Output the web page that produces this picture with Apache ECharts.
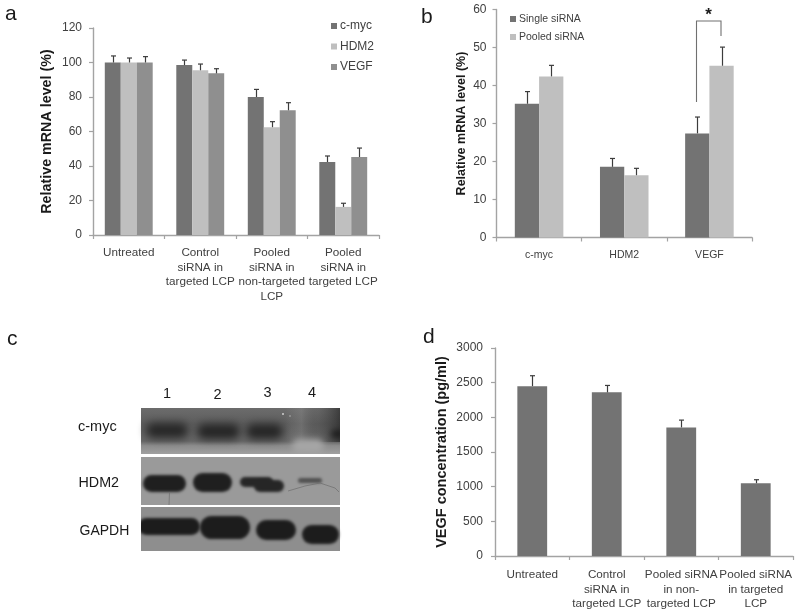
<!DOCTYPE html>
<html>
<head>
<meta charset="utf-8">
<style>html,body{margin:0;padding:0;background:#fff}#c{width:800px;height:616px}</style>
<script src="https://cdn.jsdelivr.net/npm/echarts@6/dist/echarts.min.js"></script>
</head>
<body>
<div id="c"></div>
<script>
// Panel a
const aCategories = ['Untreated', 'Control\nsiRNA in\ntargeted LCP', 'Pooled\nsiRNA in\nnon-targeted\nLCP', 'Pooled\nsiRNA in\ntargeted LCP'];
const aCmyc = [100, 98.5, 80, 42.3];
const aCmycTop = [103.8, 101.4, 84.4, 45.8];
const aHdm2 = [100, 95.5, 62.5, 16.3];
const aHdm2Top = [102.6, 99.1, 65.7, 18.4];
const aVegf = [100, 93.7, 72.3, 45.2];
const aVegfTop = [103.4, 96.4, 76.7, 50.4];
// Panel b
const bCategories = ['c-myc', 'HDM2', 'VEGF'];
const bSingle = [35.2, 18.6, 27.4];
const bSingleTop = [38.4, 20.8, 31.7];
const bPooled = [42.4, 16.4, 45.2];
const bPooledTop = [45.3, 18.2, 50.1];
// Panel d
const dCategories = ['Untreated', 'Control\nsiRNA in\ntargeted LCP', 'Pooled siRNA\nin non-\ntargeted LCP', 'Pooled siRNA\nin targeted\nLCP'];
const dVegf = [2450, 2360, 1855, 1050];
const dVegfTop = [2600, 2460, 1960, 1100];

const FONT = '"Liberation Sans", Arial, sans-serif';
const DARK = '#737373', LIGHT = '#bfbfbf', MID = '#8f8f8f';
const AXIS = '#a3a3a3', TEXT = '#404040';

function xAxis(gridIndex, data, fontSize, margin, lineHeight) {
  return {
    type: 'category', gridIndex, data,
    axisLine: { lineStyle: { color: AXIS, width: 1.4 } },
    axisTick: { show: true, length: 4, lineStyle: { color: AXIS, width: 1.2 } },
    axisLabel: { interval: 0, hideOverlap: false, color: TEXT, fontFamily: FONT, fontSize, margin, lineHeight },
    splitLine: { show: false }
  };
}
function yAxis(gridIndex, max, interval, name, nameSize, nameGap, fontSize, margin) {
  return {
    type: 'value', gridIndex, min: 0, max, interval,
    name, nameLocation: 'middle', nameGap,
    nameTextStyle: { color: '#1a1a1a', fontFamily: FONT, fontWeight: 'bold', fontSize: nameSize },
    axisLine: { show: true, lineStyle: { color: AXIS, width: 1.4 } },
    axisTick: { show: true, length: 4, lineStyle: { color: AXIS, width: 1.2 } },
    axisLabel: { color: TEXT, fontFamily: FONT, fontSize, margin, formatter: v => String(v) },
    splitLine: { show: false }
  };
}
function bars(name, data, color, idx, gap) {
  return { type: 'bar', name, data, xAxisIndex: idx, yAxisIndex: idx, barGap: 0, barCategoryGap: gap,
    itemStyle: { color }, emphasis: { disabled: true }, silent: true, z: 2 };
}
function errs(values, tops, idx, offsetFrac) {
  return {
    type: 'custom', xAxisIndex: idx, yAxisIndex: idx, silent: true, z: 3,
    data: values.map((v, i) => [i, v, tops[i]]),
    encode: { x: 0, y: [1, 2] },
    renderItem(params, api) {
      const band = api.size([1, 0])[0];
      const base = api.coord([api.value(0), api.value(1)]);
      const top = api.coord([api.value(0), api.value(2)]);
      const x = Math.round(base[0] + offsetFrac * band) + 0.5;
      const st = { stroke: '#3c3c3c', lineWidth: 1.2, fill: null };
      return { type: 'group', children: [
        { type: 'line', shape: { x1: x, y1: base[1], x2: x, y2: top[1] }, style: st },
        { type: 'line', shape: { x1: x - 2.5, y1: top[1], x2: x + 2.5, y2: top[1] }, style: st }
      ] };
    }
  };
}
function rect(x, y, w, h, fill) {
  return { type: 'rect', silent: true, shape: { x, y, width: w, height: h }, style: { fill } };
}
// soft blot band: only the blurred shadow of an off-page shape lands on the strip
const FAR = 3000;
function band(x, y, w, h, color, blur) {
  return { type: 'rect', silent: true, shape: { x: x - FAR, y, width: w, height: h, r: Math.min(w, h) / 2 },
    style: { fill: '#000', shadowColor: color, shadowBlur: blur, shadowOffsetX: FAR } };
}
function vgrad(stops) {
  return { type: 'linear', x: 0, y: 0, x2: 0, y2: 1, colorStops: stops.map(s => ({ offset: s[0], color: s[1] })) };
}
function hgrad(stops) {
  return { type: 'linear', x: 0, y: 0, x2: 1, y2: 0, colorStops: stops.map(s => ({ offset: s[0], color: s[1] })) };
}
function txt(text, x, y, size, color, extra) {
  return { type: 'text', silent: true, x, y, style: Object.assign({ text, fill: color || '#1a1a1a', fontFamily: FONT, fontSize: size,
    textAlign: 'left', textVerticalAlign: 'middle' }, extra || {}) };
}
function scratch(pts) {
  return { type: 'polyline', silent: true, shape: { points: pts }, style: { stroke: '#6d6d6d', lineWidth: 0.7, fill: null } };
}

const aBand = 0.67 / 3, bBand = 0.57 / 2;
const option = {
  animation: false,
  backgroundColor: '#fff',
  textStyle: { fontFamily: FONT },
  grid: [
    { left: 93, top: 28, width: 286, height: 207 },
    { left: 496.5, top: 9.5, width: 255.5, height: 228 },
    { left: 495, top: 348, width: 298, height: 208 }
  ],
  xAxis: [xAxis(0, aCategories, 11.7, 11, 14.4), xAxis(1, bCategories, 10.5, 11, 13), xAxis(2, dCategories, 11.7, 12, 14.5)],
  yAxis: [
    yAxis(0, 120, 20, 'Relative mRNA level (%)', 14.3, 39, 12, 11),
    yAxis(1, 60, 10, 'Relative mRNA level (%)', 12.5, 28, 12, 10),
    yAxis(2, 3000, 500, 'VEGF concentration (pg/ml)', 14.5, 46, 12, 12)
  ],
  legend: [
    { show: true, orient: 'vertical', left: 331, top: 20, itemWidth: 6, itemHeight: 6, itemGap: 8.5, icon: 'rect',
      data: ['c-myc', 'HDM2', 'VEGF'], selectedMode: false,
      textStyle: { color: TEXT, fontFamily: FONT, fontSize: 12, padding: [0, 0, 0, -2] }, padding: 0 },
    { show: true, orient: 'vertical', left: 510, top: 13.5, itemWidth: 6, itemHeight: 6, itemGap: 7, icon: 'rect',
      data: ['Single siRNA', 'Pooled siRNA'], selectedMode: false,
      textStyle: { color: TEXT, fontFamily: FONT, fontSize: 10.5, padding: [0, 0, 0, -2] }, padding: 0 }
  ],
  series: [
    bars('c-myc', aCmyc, DARK, 0, '33%'),
    bars('HDM2', aHdm2, LIGHT, 0, '33%'),
    bars('VEGF', aVegf, MID, 0, '33%'),
    errs(aCmyc, aCmycTop, 0, -aBand),
    errs(aHdm2, aHdm2Top, 0, 0),
    errs(aVegf, aVegfTop, 0, aBand),
    bars('Single siRNA', bSingle, DARK, 1, '43%'),
    bars('Pooled siRNA', bPooled, LIGHT, 1, '43%'),
    errs(bSingle, bSingleTop, 1, -bBand / 2),
    errs(bPooled, bPooledTop, 1, bBand / 2),
    bars('VEGF concentration', dVegf, DARK, 2, '60%'),
    errs(dVegf, dVegfTop, 2, 0)
  ],
  graphic: [
    txt('a', 5, 14, 21, '#1a1a1a'),
    txt('b', 421, 17, 21, '#1a1a1a'),
    txt('c', 7, 339, 21, '#1a1a1a'),
    txt('d', 423, 337, 21, '#1a1a1a'),
    // significance bracket on panel b
    { type: 'polyline', silent: true, shape: { points: [[696.5, 102], [696.5, 21], [721, 21], [721, 36]] },
      style: { stroke: '#707070', lineWidth: 1.1, fill: null } },
    txt('*', 708.5, 15, 17, '#1a1a1a', { textAlign: 'center', fontWeight: 'bold' }),
    // blot labels
    txt('c-myc', 78, 427, 14.5),
    txt('HDM2', 78.5, 483, 14.3),
    txt('GAPDH', 79.5, 531.5, 14),
    txt('1', 167, 394, 14.5, '#1a1a1a', { textAlign: 'center' }),
    txt('2', 217.5, 395, 14.5, '#1a1a1a', { textAlign: 'center' }),
    txt('3', 267.5, 393, 14.5, '#1a1a1a', { textAlign: 'center' }),
    txt('4', 312, 393, 14.5, '#1a1a1a', { textAlign: 'center' }),
    // blot: c-myc strip
    rect(141, 408, 199, 46, vgrad([[0, '#6c6c6c'], [0.35, '#5c5c5c'], [0.72, '#666666'], [0.82, '#8c8c8c'], [1, '#a0a0a0']])),
    rect(285, 408, 55, 34, hgrad([[0, 'rgba(150,150,150,0)'], [0.3, 'rgba(150,150,150,0.3)'], [0.6, 'rgba(60,60,60,0.1)'], [1, 'rgba(30,30,30,0.6)']])),
    band(292, 439, 32, 14, '#a6a6a6', 6),
    band(146, 423, 42, 15, '#262626', 8),
    band(197, 424, 43, 15, '#242424', 8),
    band(246, 424, 37, 15, '#242424', 8),
    band(331, 430, 14, 8, '#1a1a1a', 6),
    rect(340, 404, 12, 52, '#fff'),
    rect(141, 454, 199, 3, '#fff'),
    { type: 'circle', silent: true, shape: { cx: 283, cy: 414, r: 1 }, style: { fill: '#cfcfcf' } },
    { type: 'circle', silent: true, shape: { cx: 290, cy: 416, r: 0.8 }, style: { fill: '#b5b5b5' } },
    // blot: HDM2 strip
    rect(141, 457, 199, 48, '#9a9a9a'),
    band(143, 475, 43, 17, '#1f1f1f', 3),
    band(193, 473, 39, 19, '#1f1f1f', 3),
    band(240, 477, 33, 10, '#262626', 3),
    band(254, 480, 30, 12, '#262626', 3),
    band(298, 478, 24, 5, '#505050', 3),
    scratch([[169.5, 492], [169, 505]]),
    scratch([[288, 491], [305, 486], [320, 483], [335, 488], [339, 492]]),
    // blot: GAPDH strip
    rect(141, 507, 199, 44, '#8e8e8e'),
    band(138, 518, 62, 17, '#1c1c1c', 3),
    band(200, 516, 50, 23, '#1c1c1c', 3),
    band(256, 520, 40, 20, '#1c1c1c', 3),
    band(302, 525, 37, 19, '#1c1c1c', 3),
    rect(132, 505, 9, 48, '#fff')
  ]
};
const chart = echarts.init(document.getElementById('c'), null, { renderer: 'canvas', width: 800, height: 616 });
chart.setOption(option);
</script>
</body>
</html>
